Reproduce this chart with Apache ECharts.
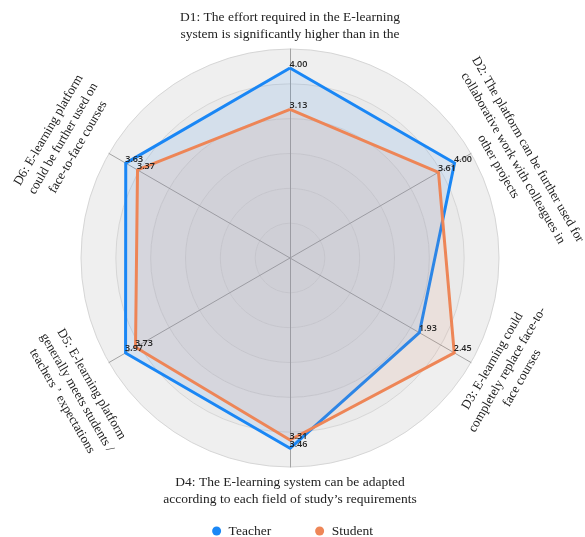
<!DOCTYPE html>
<html>
<head>
<meta charset="utf-8">
<script src="https://cdn.jsdelivr.net/npm/echarts@6/dist/echarts.min.js"></script>
<style>html,body{margin:0;padding:0;background:#fff;}#c{width:585px;height:537px;}</style>
</head>
<body>
<div id="c"></div>
<script>
const categories = [
  'D1: The effort required in the E-learning\nsystem is significantly higher than in the',
  'D2: The platform can be further used for\ncollaborative work with colleagues in\nother projects',
  'D3: E-learning could\ncompletely replace face-to-\nface courses',
  'D4: The E-learning system can be adapted\naccording to each field of study\u2019s requirements',
  'D5: E-learning platform\ngenerally meets students /\nteachers \u2019 expectations',
  'D6: E-learning platform\ncould be further used on\nface-to-face courses'
];
const teacher = [4.00, 4.00, 1.93, 3.46, 3.97, 3.63];
const student = [3.13, 3.61, 2.45, 3.31, 3.73, 3.37];
const axisMax = [4.4, 4.4, 2.7, 3.8, 4.37, 4.0];

// layout of axis names (angle, radius, rotation, shift along reading direction, font size)
const nameAngle = [90, 30, -30, -90, -150, 150];
const nameRadius = [232, 243, 244, 233, 252, 256];
const nameRot = [0, -60, 60, 0, -60, 60];
const nameShift = [0, 25, 12, 0, 10, -10];
const nameSize = [13.5, 13, 13, 13.5, 13, 13];

const CX = 290, CY = 258, R = 209;
const order = [0, 5, 4, 3, 2, 1]; // ECharts goes counter-clockwise

const chart = echarts.init(document.getElementById('c'), null, {renderer: 'canvas'});

const graphics = categories.map((txt, i) => {
  const th = nameAngle[i] * Math.PI / 180;
  const r = nameRot[i] * Math.PI / 180;
  const x = CX + nameRadius[i] * Math.cos(th) + nameShift[i] * Math.cos(r);
  const y = CY - nameRadius[i] * Math.sin(th) - nameShift[i] * Math.sin(r);
  return {
    type: 'text', x: x, y: y, rotation: r, silent: true,
    style: {
      text: txt, font: nameSize[i] + 'px "Liberation Serif", "Times New Roman", serif',
      fill: '#222', align: 'center', verticalAlign: 'middle', lineHeight: 17
    }
  };
});

const lbl = {
  show: true, position: 'right', distance: 0, offset: [-1, -4],
  fontSize: 9, fontWeight: 600, color: '#222', fontFamily: '"Open Sans", "Noto Sans", sans-serif',
  formatter: p => Number(p.value).toFixed(2)
};

chart.setOption({
  animation: false,
  backgroundColor: '#fff',
  legend: {
    top: 519, left: 'center', icon: 'circle', itemWidth: 14, itemHeight: 9, itemGap: 44,
    textStyle: {fontFamily: '"Liberation Serif", "Times New Roman", serif', fontSize: 13.5, color: '#222'},
    data: ['Teacher', 'Student']
  },
  radar: {
    center: [CX, CY], radius: R, shape: 'circle', splitNumber: 6, startAngle: 90,
    indicator: order.map(i => ({name: categories[i], max: axisMax[i], min: 0})),
    axisName: {show: false},
    axisLine: {lineStyle: {color: '#a3a3a3', width: 1}},
    splitLine: {lineStyle: {color: '#d6d6d6', width: 1}},
    splitArea: {show: true, areaStyle: {color: ['#e2e2e2', '#e3e3e3', '#e5e5e5', '#e7e7e7', '#eaeaea', '#efefef']}}
  },
  graphic: graphics,
  series: [{
    type: 'radar',
    data: [
      {
        name: 'Teacher', value: order.map(i => teacher[i]),
        symbol: 'circle', symbolSize: 1,
        itemStyle: {color: '#1a87f5'},
        lineStyle: {color: '#1a87f5', width: 3},
        areaStyle: {color: 'rgba(26,135,245,0.15)'},
        label: lbl
      },
      {
        name: 'Student', value: order.map(i => student[i]),
        symbol: 'circle', symbolSize: 1,
        itemStyle: {color: '#ee8657'},
        lineStyle: {color: '#ee8657', width: 3},
        areaStyle: {color: 'rgba(238,134,87,0.14)'},
        label: lbl
      }
    ]
  }]
});
</script>
</body>
</html>
